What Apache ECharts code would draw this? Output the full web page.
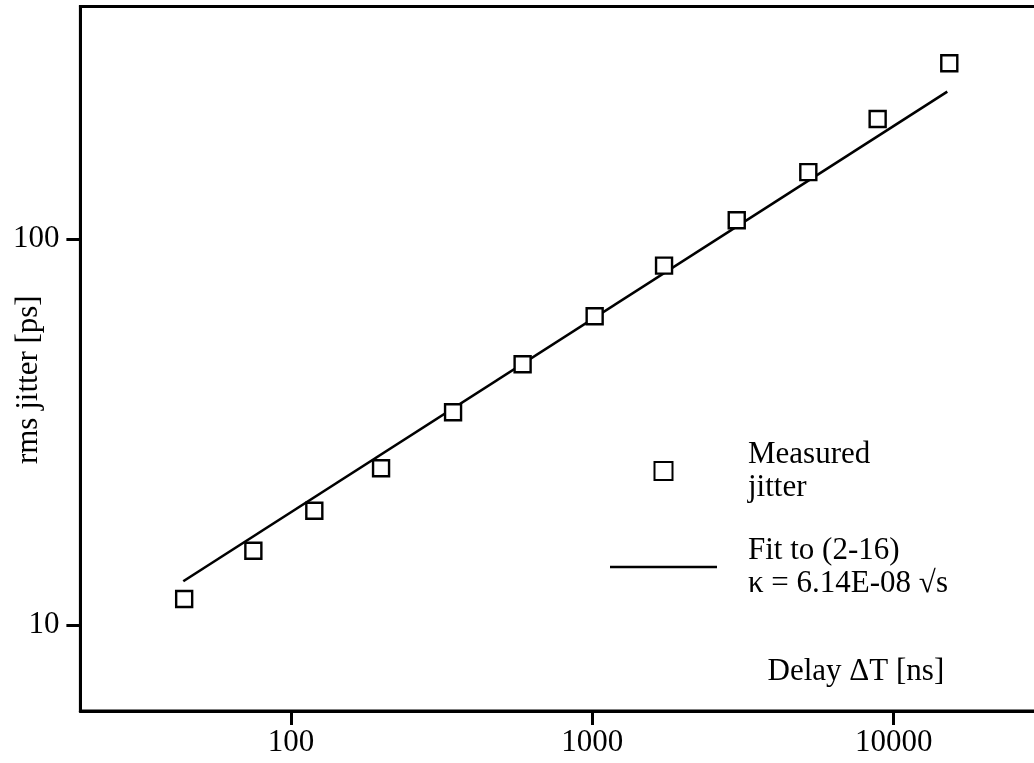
<!doctype html>
<html>
<head>
    <meta charset="UTF-8">
    <title>rms jitter vs delay</title>
    <script src="https://cdn.jsdelivr.net/npm/echarts@6/dist/echarts.min.js"></script>
    <style>
        html, body {
            margin: 0;
            padding: 0;
            background: #fff;
        }
        #main {
            width: 1034px;
            height: 763px;
        }
    </style>
</head>
<body>
    <div id="main"></div>

    <script>
        // measured points (delay in ns, jitter in ps)
        var delayNs = [44.2, 75, 119.5, 199, 345, 587, 1018, 1730, 3015, 5210, 8850, 15300];
        var jitterPs = [11.7, 15.6, 19.8, 25.5, 35.6, 47.4, 63.1, 85.3, 111.8, 149, 204.5, 285];

        // fitted sqrt line, read at its two ends
        var fitDelayNs = [43.9, 15070];
        var fitJitterPs = [13.0, 240.6];

        var xTicks = [100, 1000, 10000];
        var yTicks = [10, 100];

        var seriesNames = ['Measured\njitter', 'Fit to (2-16)\n\u03ba = 6.14E-08 \u221as'];

        var font = '"Liberation Serif", "Times New Roman", serif';

        function pairs(xs, ys) {
            var out = [];
            for (var i = 0; i < xs.length; i++) {
                out.push([xs[i], ys[i]]);
            }
            return out;
        }

        var myChart = echarts.init(document.getElementById('main'));

        var option = {
            animation: false,
            backgroundColor: '#fff',
            grid: {
                left: 80.4,
                top: 6.4,
                width: 957,
                height: 704.6,
                show: true,
                borderColor: '#000',
                borderWidth: 3,
                backgroundColor: 'transparent',
                containLabel: false,
                outerBoundsMode: 'none'
            },
            legend: {
                orient: 'vertical',
                left: 610,
                top: 438,
                padding: 0,
                itemWidth: 107,
                itemHeight: 18,
                itemGap: 30,
                selectedMode: false,
                symbolKeepAspect: true,
                data: [
                    // square marker, kept square inside the wide item box
                    { name: seriesNames[0], icon: 'path://M0,0L1,0L1,1L0,1Z' },
                    // plain line, no dot in the middle
                    { name: seriesNames[1], icon: 'path://M0,0L107,0L107,2.7L0,2.7Z' }
                ],
                textStyle: {
                    fontFamily: font,
                    fontSize: 31,
                    lineHeight: 33,
                    color: '#000',
                    padding: [0, 0, 0, 26]
                }
            },
            xAxis: {
                type: 'log',
                logBase: 10,
                min: 20,
                max: 30000,
                name: 'Delay \u0394T [ns]',
                nameLocation: 'middle',
                nameGap: -55,
                nameMoveOverlap: false,
                nameTextStyle: {
                    fontFamily: font,
                    fontSize: 31,
                    color: '#000',
                    padding: [0, 0, 0, 594]
                },
                axisLine: {
                    lineStyle: { color: '#000', width: 3 }
                },
                axisTick: {
                    length: 14,
                    customValues: xTicks,
                    lineStyle: { color: '#000', width: 3 }
                },
                axisLabel: {
                    customValues: xTicks,
                    margin: 16,
                    fontFamily: font,
                    fontSize: 31,
                    color: '#000',
                    formatter: function (v) { return String(Math.round(v)); }
                },
                splitLine: { show: false },
                minorTick: { show: false }
            },
            yAxis: {
                type: 'log',
                logBase: 10,
                min: 6,
                max: 400,
                name: 'rms jitter [ps]',
                nameLocation: 'middle',
                nameGap: 36,
                nameMoveOverlap: false,
                nameTextStyle: {
                    fontFamily: font,
                    fontSize: 31,
                    color: '#000',
                    padding: [0, 42, 0, 0]
                },
                axisLine: {
                    lineStyle: { color: '#000', width: 3 }
                },
                axisTick: {
                    length: 14,
                    customValues: yTicks,
                    lineStyle: { color: '#000', width: 3 }
                },
                axisLabel: {
                    customValues: yTicks,
                    margin: 21,
                    fontFamily: font,
                    fontSize: 31,
                    color: '#000',
                    formatter: function (v) { return String(Math.round(v)); }
                },
                splitLine: { show: false },
                minorTick: { show: false }
            },
            series: [
                {
                    name: seriesNames[1],
                    type: 'line',
                    data: pairs(fitDelayNs, fitJitterPs),
                    symbol: 'none',
                    silent: true,
                    z: 2,
                    lineStyle: { color: '#000', width: 2.6 },
                    itemStyle: { color: '#000' }
                },
                {
                    name: seriesNames[0],
                    type: 'scatter',
                    data: pairs(delayNs, jitterPs),
                    symbol: 'rect',
                    symbolSize: 16,
                    silent: true,
                    z: 3,
                    itemStyle: {
                        color: '#fff',
                        borderColor: '#000',
                        borderWidth: 2.4,
                        opacity: 1
                    }
                }
            ]
        };

        myChart.setOption(option);
    </script>
</body>
</html>
